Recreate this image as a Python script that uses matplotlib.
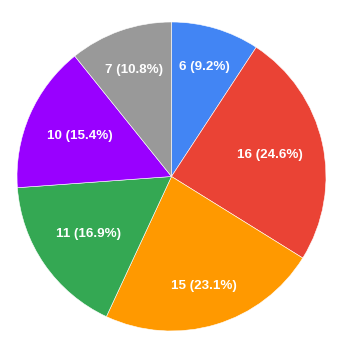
import numpy as np
import matplotlib
matplotlib.use('Agg')
import matplotlib.pyplot as plt

# Data
values = [6, 16, 15, 11, 10, 7]
colors = ['#4285F4', '#EA4335', '#FF9900', '#34A853', '#9900FF', '#999999']
# radial position of each label (fraction of radius)
label_r = [0.74, 0.65, 0.74, 0.65, 0.65, 0.73]

total = sum(values)

fig = plt.figure(figsize=(3.43, 3.53), dpi=100)
ax = fig.add_axes([17 / 343, 22 / 353, 309 / 343, 309 / 353])

wedges, _ = ax.pie(values, colors=colors, startangle=90, counterclock=False,
                   radius=1, wedgeprops=dict(edgecolor='white', linewidth=0.4))

for w, v, r in zip(wedges, values, label_r):
    ang = np.deg2rad((w.theta1 + w.theta2) / 2)
    ax.text(r * np.cos(ang), r * np.sin(ang), '%d (%.1f%%)' % (v, 100 * v / total),
            ha='center', va='center', color='white', fontsize=9.6,
            fontweight='bold', family=['Liberation Sans', 'DejaVu Sans'])

ax.set_xlim(-1, 1)
ax.set_ylim(-1, 1)
ax.set_aspect('equal')
ax.axis('off')

fig.savefig('out.png', dpi=100)
